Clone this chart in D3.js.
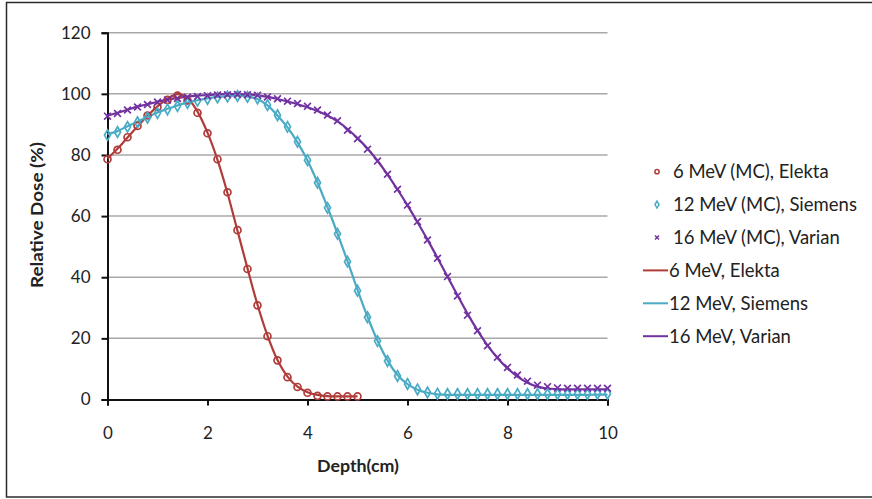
<!DOCTYPE html>
<html>
<head>
<meta charset="utf-8">
<script src="https://cdn.jsdelivr.net/npm/d3@7"></script>
<style>
  html, body { margin: 0; padding: 0; background: #fff; }
  svg { display: block; }
  text { font-family: Lato, "Open Sans", "Liberation Sans", sans-serif; fill: #222; }
</style>
</head>
<body>
<svg id="chart" width="872" height="499"></svg>
<script>
// Depth-dose curves: Monte Carlo points and measured curves, sampled every 0.2 cm
const depth6 = d3.range(0, 26).map(i => +(i * 0.2).toFixed(1));   // 0 .. 5.0 cm
const depthFull = d3.range(0, 51).map(i => +(i * 0.2).toFixed(1)); // 0 .. 10.0 cm

const mc6Elekta = [78.6, 81.7, 85.8, 89.5, 92.9, 95.7, 98.0, 99.4, 97.8, 93.8,
  87.1, 78.6, 67.8, 55.4, 42.7, 30.8, 20.7, 12.8, 7.3, 4.1,
  2.2, 1.2, 1.0, 1.0, 1.0, 1.0];

const mc12Siemens = [86.5, 87.5, 89.2, 90.7, 92.2, 93.7, 94.9, 96.0, 97.0, 97.7,
  98.3, 98.8, 99.1, 99.3, 99.0, 98.5, 96.3, 93.0, 89.2, 84.3,
  78.3, 70.9, 62.7, 54.2, 45.1, 35.6, 26.9, 19.1, 12.6, 7.7,
  5.1, 3.3, 2.3, 1.9, 1.8, 1.8, 1.8, 1.8, 1.8, 1.8,
  1.8, 1.8, 1.8, 1.8, 1.8, 1.8, 1.8, 1.8, 1.8, 1.9, 1.9];

const mc16Varian = [92.7, 93.6, 94.7, 95.7, 96.5, 97.3, 98.0, 98.5, 98.9, 99.1,
  99.4, 99.6, 99.7, 99.8, 99.7, 99.5, 99.0, 98.4, 97.6, 96.8,
  95.9, 94.7, 93.1, 91.2, 88.1, 85.3, 81.9, 78.0, 73.7, 68.8,
  63.6, 58.2, 52.2, 46.2, 40.2, 33.9, 27.6, 22.5, 17.6, 13.8,
  10.5, 8.0, 6.0, 4.7, 4.2, 3.8, 3.7, 3.7, 3.7, 3.7, 3.7];

const meas6Elekta = [78.8, 82.0, 85.7, 89.3, 92.8, 95.9, 98.4, 99.9, 98.6, 94.2,
  87.3, 78.4, 67.5, 55.2, 42.9, 31.0, 20.9, 12.9, 7.5, 4.2,
  2.4, 1.5, 1.1, 1.0, 1.0, 1.0];

const meas12Siemens = [86.8, 87.8, 89.4, 90.9, 92.4, 93.9, 95.1, 96.2, 97.2, 97.9,
  98.5, 99.0, 99.3, 99.4, 99.1, 98.3, 96.2, 92.9, 89.0, 84.1,
  78.2, 71.0, 62.9, 54.3, 45.3, 35.9, 27.1, 19.2, 12.8, 8.0,
  5.0, 3.2, 2.2, 1.7, 1.5, 1.5, 1.5, 1.5, 1.5, 1.5,
  1.5, 1.5, 1.5, 1.5, 1.5, 1.5, 1.5, 1.5, 1.5, 1.6, 1.6];

const meas16Varian = [92.9, 93.8, 94.8, 95.8, 96.6, 97.4, 98.1, 98.7, 99.1, 99.4,
  99.6, 99.8, 99.9, 99.9, 99.8, 99.5, 99.0, 98.3, 97.5, 96.6,
  95.6, 94.4, 92.9, 91.0, 88.5, 85.5, 82.1, 78.1, 73.6, 68.7,
  63.5, 58.0, 52.3, 46.3, 40.2, 34.1, 28.1, 22.6, 17.7, 13.6,
  10.2, 7.5, 5.5, 4.2, 3.6, 3.4, 3.3, 3.3, 3.3, 3.3, 3.3];

const yTicks = [0, 20, 40, 60, 80, 100, 120];
const xTicks = [0, 2, 4, 6, 8, 10];

const colors = { red: "#b03c3a", cyan: "#4aabc5", purple: "#7132a0" };

const legendLabels = [
  "6 MeV (MC), Elekta",
  "12 MeV (MC), Siemens",
  "16 MeV (MC), Varian",
  "6 MeV, Elekta",
  "12 MeV, Siemens",
  "16 MeV, Varian"
];

const svg = d3.select("#chart");

// outer frame
svg.append("rect")
  .attr("x", 6.5).attr("y", 2.5)
  .attr("width", 872).attr("height", 494.5)
  .attr("fill", "none").attr("stroke", "#2b2b2b").attr("stroke-width", 1.5);

const x = d3.scaleLinear().domain([0, 10]).range([107.5, 607.5]);
const y = d3.scaleLinear().domain([0, 120]).range([399.5, 32.7]);

// horizontal gridlines
svg.append("g")
  .selectAll("line")
  .data(yTicks.filter(v => v > 0))
  .join("line")
  .attr("x1", x(0)).attr("x2", x(10))
  .attr("y1", d => y(d)).attr("y2", d => y(d))
  .attr("stroke", "#a8a8a8").attr("stroke-width", 1.5);

// y axis
const yAxis = svg.append("g")
  .attr("transform", `translate(${x(0)},0)`)
  .call(d3.axisLeft(y).tickValues(yTicks).tickSize(6).tickPadding(11).tickFormat(d3.format("d")));
yAxis.select(".domain").attr("stroke", "#111").attr("stroke-width", 2);
yAxis.selectAll(".tick line").attr("stroke", "#111").attr("stroke-width", 2);
yAxis.selectAll(".tick text").style("font-size", "17px").attr("fill", "#222")
  .style("font-family", "Lato, sans-serif");

// x axis
const xAxis = svg.append("g")
  .attr("transform", `translate(0,${y(0)})`)
  .call(d3.axisBottom(x).tickValues(xTicks).tickSize(6).tickPadding(21).tickFormat(d3.format("d")));
xAxis.select(".domain").attr("stroke", "#111").attr("stroke-width", 2);
xAxis.selectAll(".tick line").attr("stroke", "#111").attr("stroke-width", 2);
xAxis.selectAll(".tick text").style("font-size", "17px").attr("fill", "#222")
  .style("font-family", "Lato, sans-serif");

// axis titles
svg.append("text")
  .attr("x", 358).attr("y", 472)
  .attr("text-anchor", "middle")
  .attr("textLength", 82).attr("lengthAdjust", "spacingAndGlyphs")
  .style("font-size", "17px").style("font-weight", "bold")
  .text("Depth(cm)");

svg.append("text")
  .attr("transform", `translate(43,${y(60) - 1}) rotate(-90)`)
  .attr("text-anchor", "middle")
  .attr("textLength", 146).attr("lengthAdjust", "spacingAndGlyphs")
  .style("font-size", "17px").style("font-weight", "bold")
  .text("Relative Dose (%)");

// measured curves
const lineGen = d3.line()
  .x(d => x(d[0]))
  .y(d => y(d[1]))
  .curve(d3.curveCatmullRom.alpha(0.5));

const curves = [
  { xs: depth6, ys: meas6Elekta, color: colors.red },
  { xs: depthFull, ys: meas12Siemens, color: colors.cyan },
  { xs: depthFull, ys: meas16Varian, color: colors.purple }
];
curves.forEach(c => {
  svg.append("path")
    .datum(d3.zip(c.xs, c.ys))
    .attr("d", lineGen)
    .attr("fill", "none")
    .attr("stroke", c.color)
    .attr("stroke-width", 2.2);
});

// Monte Carlo markers
const circleSym = d3.symbol().type(d3.symbolCircle).size(38);
const diamondSym = d3.symbol().type(d3.symbolDiamond).size(32);

function crossPath(s) {
  return `M${-s},${-s}L${s},${s}M${-s},${s}L${s},${-s}`;
}

svg.append("g")
  .selectAll("path")
  .data(d3.zip(depth6, mc6Elekta))
  .join("path")
  .attr("transform", d => `translate(${x(d[0])},${y(d[1])})`)
  .attr("d", circleSym)
  .attr("fill", "none")
  .attr("stroke", colors.red)
  .attr("stroke-width", 1.7);

svg.append("g")
  .selectAll("path")
  .data(d3.zip(depthFull, mc12Siemens))
  .join("path")
  .attr("transform", d => `translate(${x(d[0])},${y(d[1])})`)
  .attr("d", diamondSym)
  .attr("fill", "none")
  .attr("stroke", colors.cyan)
  .attr("stroke-width", 1.7);

svg.append("g")
  .selectAll("path")
  .data(d3.zip(depthFull, mc16Varian))
  .join("path")
  .attr("transform", d => `translate(${x(d[0])},${y(d[1])})`)
  .attr("d", crossPath(3.4))
  .attr("fill", "none")
  .attr("stroke", colors.purple)
  .attr("stroke-width", 1.7);

// legend
const legend = svg.append("g");
const legendColors = [colors.red, colors.cyan, colors.purple, colors.red, colors.cyan, colors.purple];
legendLabels.forEach((label, i) => {
  const cy = 171.7 + i * 32.9;
  if (i === 0) {
    legend.append("path").attr("transform", `translate(657,${cy})`)
      .attr("d", d3.symbol().type(d3.symbolCircle).size(14))
      .attr("fill", "none").attr("stroke", legendColors[i]).attr("stroke-width", 1.5);
  } else if (i === 1) {
    legend.append("path").attr("transform", `translate(657,${cy})`)
      .attr("d", d3.symbol().type(d3.symbolDiamond).size(14))
      .attr("fill", "none").attr("stroke", legendColors[i]).attr("stroke-width", 1.5);
  } else if (i === 2) {
    legend.append("path").attr("transform", `translate(657,${cy})`)
      .attr("d", crossPath(2))
      .attr("fill", "none").attr("stroke", legendColors[i]).attr("stroke-width", 1.5);
  } else {
    legend.append("line")
      .attr("x1", 643).attr("x2", 668).attr("y1", cy).attr("y2", cy)
      .attr("stroke", legendColors[i]).attr("stroke-width", 2);
  }
  legend.append("text")
    .attr("x", i < 3 ? 673 : 669)
    .attr("y", cy)
    .attr("dy", "0.35em")
    .style("font-size", "18.5px")
    .text(label);
});
</script>
</body>
</html>
